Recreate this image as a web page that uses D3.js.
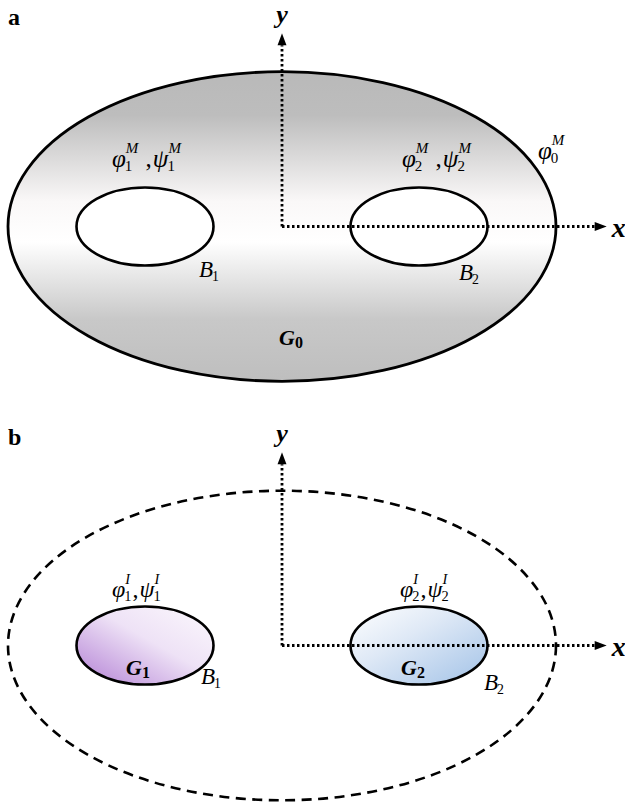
<!DOCTYPE html>
<html>
<head>
<meta charset="utf-8">
<script src="https://cdn.jsdelivr.net/npm/d3@7"></script>
<style>
body { margin: 0; background: #fff; }
text { font-family: "Times New Roman", "Liberation Serif", serif; fill: #000; }
</style>
</head>
<body>
<svg></svg>
<script>
// geometry of the two panels, in model units (origin = axis origin)
var outerSemi = [2.0, 1.13];      // outer boundary semi-axes
var holeCx = [-1, 1];             // centres of the two inclusions
var holeSemi = [0.5, 0.285];      // inclusion semi-axes
var axisEnd = [2.37, 1.41];       // x / y axis lengths

// label texts
var panelNames = ["a", "b"];
var matrixLabels = [
  [{t: "\u03C6", sub: "1", sup: "M"}, {t: " ,"}, {t: "\u03C8", sub: "1", sup: "M"}],
  [{t: "\u03C6", sub: "2", sup: "M"}, {t: " ,"}, {t: "\u03C8", sub: "2", sup: "M"}]
];
var inclLabels = [
  [{t: "\u03C6", sub: "1", sup: "I"}, {t: ","}, {t: "\u03C8", sub: "1", sup: "I"}],
  [{t: "\u03C6", sub: "2", sup: "I"}, {t: ","}, {t: "\u03C8", sub: "2", sup: "I"}]
];
var boundaryLabels = [[{t: "B", sub: "1"}], [{t: "B", sub: "2"}]];
var farLabel = [{t: "\u03C6", sub: "0", sup: "M"}];
var regionLabels = ["G", "G"];
var regionSubs = ["0", "1", "2"];

var W = 625, H = 802, U = 137;
var svg = d3.select('svg').attr('width', W).attr('height', H);

var x = d3.scaleLinear().domain([0, 1]).range([282, 282 + U]);
var yA = d3.scaleLinear().domain([0, 1]).range([226.5, 226.5 - U]);
var yB = d3.scaleLinear().domain([0, 1]).range([645.5, 645.5 - U]);

var defs = svg.append('defs');
function grad(id, x1, y1, x2, y2, stops) {
  var g = defs.append('linearGradient').attr('id', id)
    .attr('x1', x1).attr('y1', y1).attr('x2', x2).attr('y2', y2);
  stops.forEach(function(s) {
    g.append('stop').attr('offset', s[0]).attr('stop-color', s[1]);
  });
}
grad('gA', 0, 0, 0, 1, [[0, '#b9b9b9'], [0.14, '#bdbdbd'], [0.42, '#faf8f8'], [0.55, '#ffffff'], [0.8, '#c8c8c8'], [1, '#bebebe']]);
grad('gG1', 0, 1, 1, 0, [[0, '#b27fd4'], [0.55, '#eee2f6'], [1, '#fcf9fd']]);
grad('gG2', 0, 0, 1, 1, [[0, '#ffffff'], [0.4, '#dfe9f6'], [1, '#a2c2e7']]);

function ellipse(g, y, cx, cy, a, b) {
  return g.append('ellipse')
    .attr('cx', x(cx)).attr('cy', y(cy))
    .attr('rx', x(a) - x(0)).attr('ry', y(0) - y(b));
}

// math label: base glyph with stacked subscript / superscript
function mathLabel(g, px, py, parts, size) {
  var cx = px;
  parts.forEach(function(p) {
    var plain = p.t.indexOf(',') >= 0;
    var t = g.append('text').attr('x', cx).attr('y', py)
      .attr('font-size', size).attr('font-style', plain ? 'normal' : 'italic')
      .attr('xml:space', 'preserve').text(p.t);
    cx += t.node().getComputedTextLength();
    var w = 0;
    if (p.sub) {
      var s = g.append('text').attr('x', cx - 1).attr('y', py + 4)
        .attr('font-size', size * 0.6).text(p.sub);
      w = Math.max(w, s.node().getComputedTextLength() - 1);
    }
    if (p.sup) {
      var u = g.append('text').attr('x', cx).attr('y', py - size * 0.55)
        .attr('font-size', size * 0.6).attr('font-style', 'italic').text(p.sup);
      w = Math.max(w, u.node().getComputedTextLength());
    }
    cx += w + 1;
  });
}

function regionLabel(g, px, py, base, sub) {
  var t = g.append('text').attr('x', px).attr('y', py)
    .attr('font-size', 22).attr('font-weight', 'bold').attr('font-style', 'italic').text(base);
  g.append('text').attr('x', px + t.node().getComputedTextLength()).attr('y', py + 3)
    .attr('font-size', 16).attr('font-weight', 'bold').text(sub);
}

function axes(g, y) {
  var ah = 12, aw = 4.5;
  var line = d3.line();
  var x0 = x(0), y0 = y(0), xe = x(axisEnd[0]), ye = y(axisEnd[1]);
  g.append('path').attr('d', line([[x0, y0], [xe - ah, y0]]))
    .attr('stroke', '#000').attr('stroke-width', 2.8).attr('stroke-dasharray', '2.5,2.5').attr('fill', 'none');
  g.append('path').attr('d', line([[x0, y0], [x0, ye + ah]]))
    .attr('stroke', '#000').attr('stroke-width', 2.8).attr('stroke-dasharray', '2.5,2.5').attr('fill', 'none');
  g.append('path').attr('d', line([[xe, y0], [xe - ah, y0 - aw], [xe - ah, y0 + aw]]) + 'Z').attr('fill', '#000');
  g.append('path').attr('d', line([[x0, ye], [x0 - aw, ye + ah], [x0 + aw, ye + ah]]) + 'Z').attr('fill', '#000');
  g.append('text').attr('x', xe + 5).attr('y', y0 + 10).attr('font-size', 28)
    .attr('font-weight', 'bold').attr('font-style', 'italic').text('x');
  g.append('text').attr('x', x0).attr('y', ye - 10).attr('text-anchor', 'middle').attr('font-size', 26)
    .attr('font-weight', 'bold').attr('font-style', 'italic').text('y');
}

// ---- panel a : matrix with holes ----
var ga = svg.append('g');
ellipse(ga, yA, 0, 0, outerSemi[0], outerSemi[1]).attr('fill', 'url(#gA)').attr('stroke', '#000').attr('stroke-width', 2.8);
holeCx.forEach(function(c) {
  ellipse(ga, yA, c, 0, holeSemi[0], holeSemi[1]).attr('fill', '#fff').attr('stroke', '#000').attr('stroke-width', 2.6);
});
axes(ga, yA);
ga.append('text').attr('x', 8).attr('y', 25).attr('font-size', 24).attr('font-weight', 'bold').text(panelNames[0]);
mathLabel(ga, x(0) - 170, yA(0) - 59.5, matrixLabels[0], 25);
mathLabel(ga, x(0) + 120, yA(0) - 59.5, matrixLabels[1], 25);
mathLabel(ga, x(0) + 256, yA(0) - 67.5, farLabel, 25);
mathLabel(ga, x(0) - 83, yA(0) + 50.5, boundaryLabels[0], 23);
mathLabel(ga, x(0) + 177, yA(0) + 53.5, boundaryLabels[1], 23);
regionLabel(ga, x(0) - 3, yA(0) + 118.5, regionLabels[0], regionSubs[0]);

// ---- panel b : inclusions ----
var gb = svg.append('g');
ellipse(gb, yB, 0, 0, outerSemi[0], outerSemi[1]).attr('fill', 'none').attr('stroke', '#000')
  .attr('stroke-width', 2.6).attr('stroke-dasharray', '10,6.5');
['url(#gG1)', 'url(#gG2)'].forEach(function(f, i) {
  ellipse(gb, yB, holeCx[i], 0, holeSemi[0], holeSemi[1]).attr('fill', f).attr('stroke', '#000').attr('stroke-width', 2.6);
});
axes(gb, yB);
gb.append('text').attr('x', 8).attr('y', 445).attr('font-size', 24).attr('font-weight', 'bold').text(panelNames[1]);
mathLabel(gb, x(0) - 170, yB(0) - 48.5, inclLabels[0], 24);
mathLabel(gb, x(0) + 118, yB(0) - 48.5, inclLabels[1], 24);
mathLabel(gb, x(0) - 81, yB(0) + 38, boundaryLabels[0], 23);
mathLabel(gb, x(0) + 202, yB(0) + 44, boundaryLabels[1], 23);
regionLabel(gb, x(0) - 156, yB(0) + 29.5, regionLabels[1], regionSubs[1]);
regionLabel(gb, x(0) + 119, yB(0) + 29.5, regionLabels[1], regionSubs[2]);
</script>
</body>
</html>
